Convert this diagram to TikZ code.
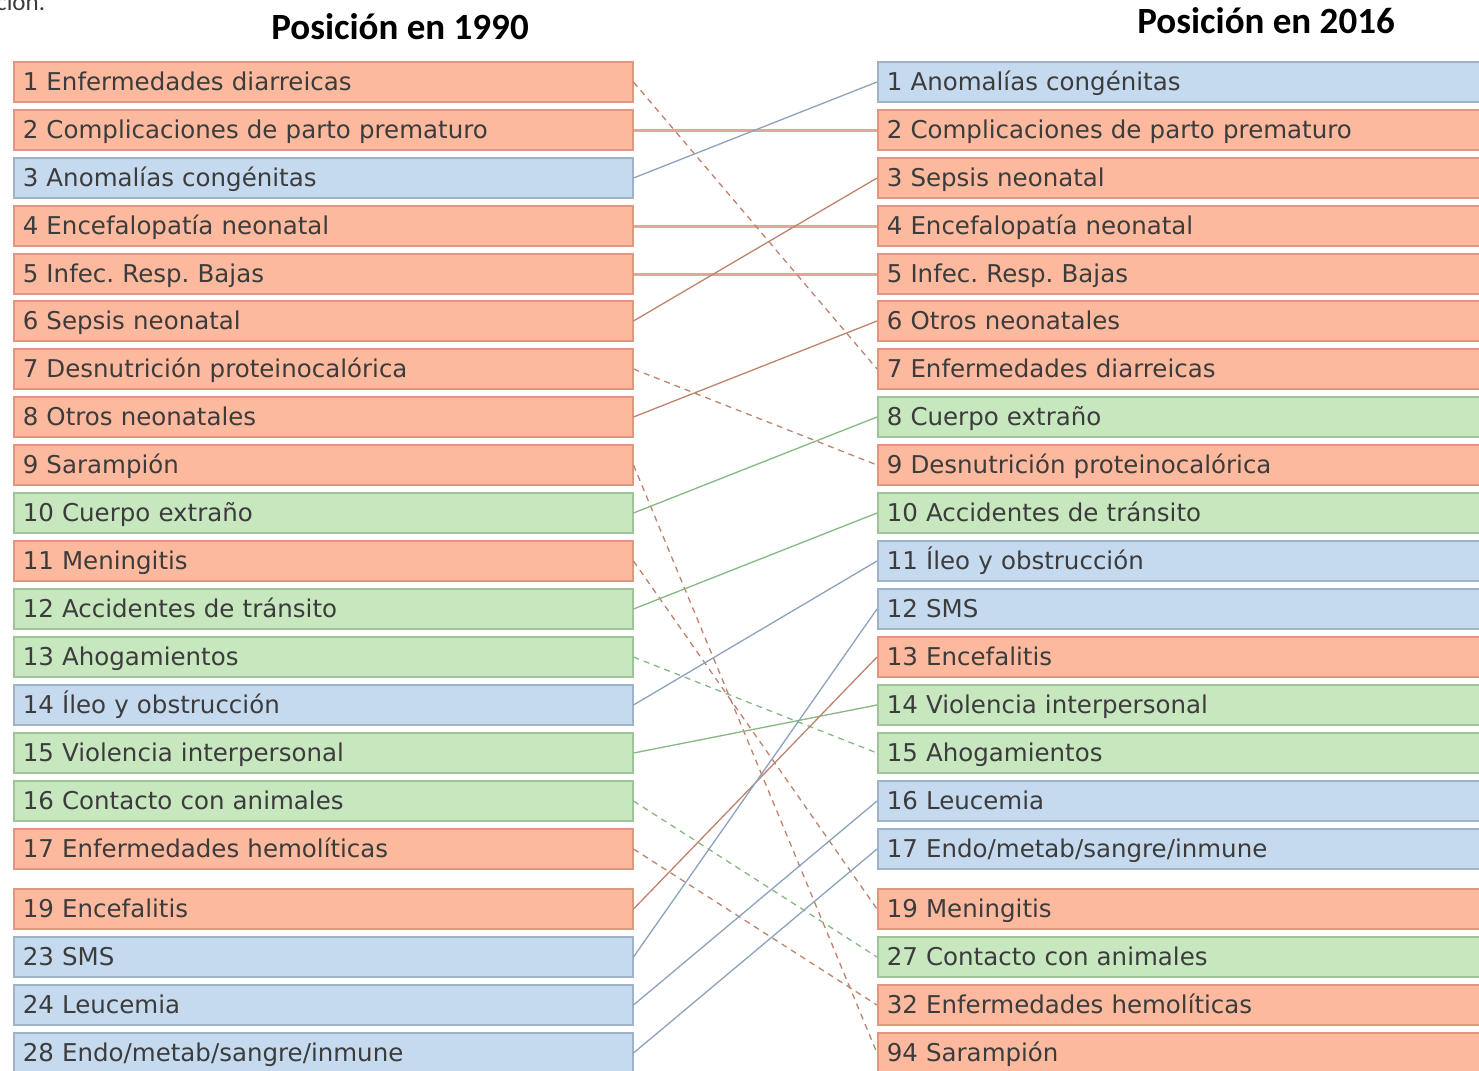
\documentclass[tikz,border=0pt]{standalone}
\usepackage{fontspec}
\setmainfont{DejaVu Sans}
\newfontfamily\titlefont{Carlito}
\usepackage{tikz}
\usetikzlibrary{positioning}
\frenchspacing

\definecolor{rojofondo}{RGB}{252,185,158}
\definecolor{rojoborde}{RGB}{222,152,126}
\definecolor{azulfondo}{RGB}{198,218,239}
\definecolor{azulborde}{RGB}{158,178,200}
\definecolor{verdefondo}{RGB}{199,231,191}
\definecolor{verdeborde}{RGB}{160,196,154}
\definecolor{rojolinea}{RGB}{192,130,108}
\definecolor{rojoplano}{RGB}{220,170,152}
\definecolor{azullinea}{RGB}{140,162,188}
\definecolor{verdelinea}{RGB}{134,184,130}
\definecolor{letra}{RGB}{60,60,60}

\begin{document}
\begin{tikzpicture}[x=1pt,y=-1pt,
  caja/.style={line width=1.5pt, anchor=west, minimum height=40pt, inner xsep=9pt, inner ysep=0pt,
    text height=17.9pt, text depth=0pt, align=left, text=letra, font=\fontsize{24.5}{28}\selectfont},
  izq/.style={caja, text width=601pt},
  der/.style={caja, text width=700pt},
  rojo/.style={fill=rojofondo, draw=rojoborde},
  azul/.style={fill=azulfondo, draw=azulborde},
  verde/.style={fill=verdefondo, draw=verdeborde},
  sube/.style={line width=1.3pt},
  baja/.style={line width=1.3pt, dash pattern=on 6pt off 5pt},
  igual/.style={line width=3pt, rojoplano},
  titulo/.style={font=\titlefont\bfseries\fontsize{37}{42}\selectfont}]
\useasboundingbox (0,0) rectangle (1479,1070);
\node[anchor=base west, text=letra, font=\titlefont\fontsize{25}{30}\selectfont, inner sep=0pt] (pie) at (-4,11) {ción.};
\node[titulo] (t1990) at (400,27) {Posición en 1990};
\node[titulo] (t2016) at (1266,21) {Posición en 2016};
% 1990
\node[izq,rojo] (l1) at (13,82) {1 Enfermedades diarreicas};
\node[izq,rojo] (l2) at (13,130) {2 Complicaciones de parto prematuro};
\node[izq,azul] (l3) at (13,178) {3 Anomalías congénitas};
\node[izq,rojo] (l4) at (13,226) {4 Encefalopatía neonatal};
\node[izq,rojo] (l5) at (13,274) {5 Infec. Resp. Bajas};
\node[izq,rojo] (l6) at (13,321) {6 Sepsis neonatal};
\node[izq,rojo] (l7) at (13,369) {7 Desnutrición proteinocalórica};
\node[izq,rojo] (l8) at (13,417) {8 Otros neonatales};
\node[izq,rojo] (l9) at (13,465) {9 Sarampión};
\node[izq,verde] (l10) at (13,513) {10 Cuerpo extraño};
\node[izq,rojo] (l11) at (13,561) {11 Meningitis};
\node[izq,verde] (l12) at (13,609) {12 Accidentes de tránsito};
\node[izq,verde] (l13) at (13,657) {13 Ahogamientos};
\node[izq,azul] (l14) at (13,705) {14 Íleo y obstrucción};
\node[izq,verde] (l15) at (13,753) {15 Violencia interpersonal};
\node[izq,verde] (l16) at (13,801) {16 Contacto con animales};
\node[izq,rojo] (l17) at (13,849) {17 Enfermedades hemolíticas};
\node[izq,rojo] (l19) at (13,909) {19 Encefalitis};
\node[izq,azul] (l23) at (13,957) {23 SMS};
\node[izq,azul] (l24) at (13,1005) {24 Leucemia};
\node[izq,azul] (l28) at (13,1053) {28 Endo/metab/sangre/inmune};
% 2016
\node[der,azul] (r1) at (877,82) {1 Anomalías congénitas};
\node[der,rojo] (r2) at (877,130) {2 Complicaciones de parto prematuro};
\node[der,rojo] (r3) at (877,178) {3 Sepsis neonatal};
\node[der,rojo] (r4) at (877,226) {4 Encefalopatía neonatal};
\node[der,rojo] (r5) at (877,274) {5 Infec. Resp. Bajas};
\node[der,rojo] (r6) at (877,321) {6 Otros neonatales};
\node[der,rojo] (r7) at (877,369) {7 Enfermedades diarreicas};
\node[der,verde] (r8) at (877,417) {8 Cuerpo extraño};
\node[der,rojo] (r9) at (877,465) {9 Desnutrición proteinocalórica};
\node[der,verde] (r10) at (877,513) {10 Accidentes de tránsito};
\node[der,azul] (r11) at (877,561) {11 Íleo y obstrucción};
\node[der,azul] (r12) at (877,609) {12 SMS};
\node[der,rojo] (r13) at (877,657) {13 Encefalitis};
\node[der,verde] (r14) at (877,705) {14 Violencia interpersonal};
\node[der,verde] (r15) at (877,753) {15 Ahogamientos};
\node[der,azul] (r16) at (877,801) {16 Leucemia};
\node[der,azul] (r17) at (877,849) {17 Endo/metab/sangre/inmune};
\node[der,rojo] (r19) at (877,909) {19 Meningitis};
\node[der,verde] (r27) at (877,957) {27 Contacto con animales};
\node[der,rojo] (r32) at (877,1005) {32 Enfermedades hemolíticas};
\node[der,rojo] (r94) at (877,1053) {94 Sarampión};
% cambios de posicion
\draw[igual] (l2.east) -- (r2.west);
\draw[igual] (l4.east) -- (r4.west);
\draw[igual] (l5.east) -- (r5.west);
\draw[baja,rojolinea] (l1.east) -- (r7.west);
\draw[sube,azullinea] (l3.east) -- (r1.west);
\draw[sube,rojolinea] (l6.east) -- (r3.west);
\draw[baja,rojolinea] (l7.east) -- (r9.west);
\draw[sube,rojolinea] (l8.east) -- (r6.west);
\draw[baja,rojolinea] (l9.east) -- (r94.west);
\draw[sube,verdelinea] (l10.east) -- (r8.west);
\draw[baja,rojolinea] (l11.east) -- (r19.west);
\draw[sube,verdelinea] (l12.east) -- (r10.west);
\draw[baja,verdelinea] (l13.east) -- (r15.west);
\draw[sube,azullinea] (l14.east) -- (r11.west);
\draw[sube,verdelinea] (l15.east) -- (r14.west);
\draw[baja,verdelinea] (l16.east) -- (r27.west);
\draw[baja,rojolinea] (l17.east) -- (r32.west);
\draw[sube,rojolinea] (l19.east) -- (r13.west);
\draw[sube,azullinea] (l23.east) -- (r12.west);
\draw[sube,azullinea] (l24.east) -- (r16.west);
\draw[sube,azullinea] (l28.east) -- (r17.west);
\end{tikzpicture}
\end{document}
